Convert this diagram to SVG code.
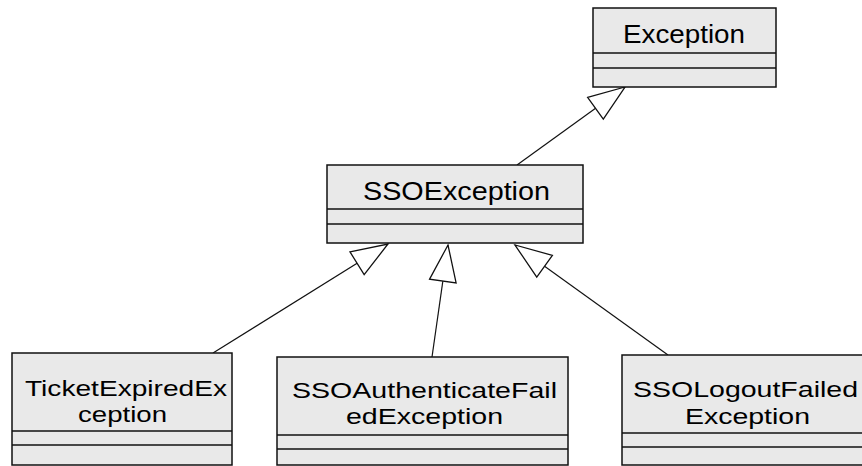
<svg xmlns="http://www.w3.org/2000/svg" width="862" height="466" viewBox="0 0 862 466">
<style>
.box{fill:#e9e9e9;stroke:#111;stroke-width:1.5}
.div{stroke:#111;stroke-width:1.5}
.t{font-family:"Liberation Sans",Arial,sans-serif;font-size:26px;fill:#000;text-anchor:middle}
.t2{font-family:"Liberation Sans",Arial,sans-serif;font-size:22px;fill:#000;text-anchor:middle}
.c{stroke:#111;stroke-width:1.2;fill:none}
</style>
<defs>
<marker id="gen" markerUnits="userSpaceOnUse" markerWidth="40" markerHeight="30" viewBox="0 0 36 28" refX="35" refY="14" orient="auto">
<path d="M1,1.5 L35,14 L1,26.5 Z" fill="#fff" stroke="#111" stroke-width="1.2"/>
</marker>
</defs>
<rect width="862" height="466" fill="#fff"/>
<g id="connectors">
<line class="c" x1="517" y1="165" x2="625" y2="87" marker-end="url(#gen)"/>
<line class="c" x1="213" y1="353" x2="388" y2="244" marker-end="url(#gen)"/>
<line class="c" x1="432" y1="357" x2="448" y2="245" marker-end="url(#gen)"/>
<line class="c" x1="668" y1="355" x2="515" y2="245" marker-end="url(#gen)"/>
</g>
<g id="Exception">
<rect class="box" x="593" y="8" width="183" height="79"/>
<line class="div" x1="593" y1="53" x2="776" y2="53"/>
<line class="div" x1="593" y1="68" x2="776" y2="68"/>
<text class="t" x="684" y="43" textLength="122" lengthAdjust="spacingAndGlyphs">Exception</text>
</g>
<g id="SSOException">
<rect class="box" x="327" y="165" width="256" height="78"/>
<line class="div" x1="327" y1="209" x2="583" y2="209"/>
<line class="div" x1="327" y1="224" x2="583" y2="224"/>
<text class="t" x="456.5" y="200" textLength="187" lengthAdjust="spacingAndGlyphs">SSOException</text>
</g>
<g id="TicketExpiredException">
<rect class="box" x="12" y="353" width="220" height="112"/>
<line class="div" x1="12" y1="431" x2="232" y2="431"/>
<line class="div" x1="12" y1="445" x2="232" y2="445"/>
<text class="t2" x="126" y="396" textLength="202" lengthAdjust="spacingAndGlyphs">TicketExpiredEx</text>
<text class="t2" x="122.5" y="422" textLength="89" lengthAdjust="spacingAndGlyphs">ception</text>
</g>
<g id="SSOAuthenticateFailedException">
<rect class="box" x="277" y="357" width="291" height="108"/>
<line class="div" x1="277" y1="435" x2="568" y2="435"/>
<line class="div" x1="277" y1="449" x2="568" y2="449"/>
<text class="t2" x="424.5" y="398" textLength="265" lengthAdjust="spacingAndGlyphs">SSOAuthenticateFail</text>
<text class="t2" x="424.5" y="424" textLength="157" lengthAdjust="spacingAndGlyphs">edException</text>
</g>
<g id="SSOLogoutFailedException">
<rect class="box" x="622" y="355" width="250" height="110"/>
<line class="div" x1="622" y1="433" x2="872" y2="433"/>
<line class="div" x1="622" y1="447" x2="872" y2="447"/>
<text class="t2" x="745.5" y="397" textLength="225" lengthAdjust="spacingAndGlyphs">SSOLogoutFailed</text>
<text class="t2" x="747.5" y="424" textLength="125" lengthAdjust="spacingAndGlyphs">Exception</text>
</g>
</svg>
